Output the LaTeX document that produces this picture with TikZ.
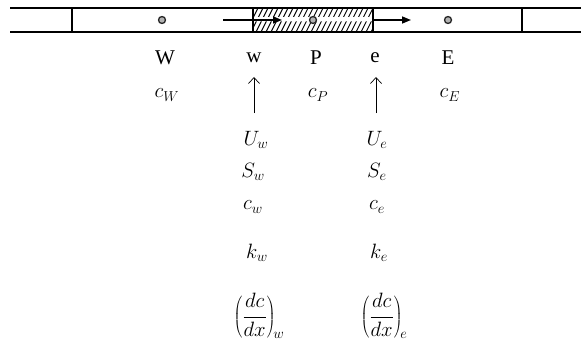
\documentclass[tikz,border=0pt]{standalone}
\usepackage{fontspec}
\setmainfont{Liberation Serif}
\usetikzlibrary{arrows.meta}
\begin{document}
\begin{tikzpicture}[x=1pt,y=-1pt,
  lbl/.style={font=\fontsize{21}{25}\selectfont, inner sep=0pt, anchor=center},
  cellline/.style={line width=1.8pt},
  hatchline/.style={line width=0.9pt},
  gdot/.style={circle, draw=black!85, fill=gray!60, line width=1.3pt, minimum size=7pt, inner sep=0pt},
  flux/.style={line width=1.5pt, -{Triangle[length=9pt,width=7pt]}},
  uparrow/.style={line width=0.7pt, -{Straight Barb[length=6pt,width=11pt]}}
]
\useasboundingbox (0,0) rectangle (581,345);
% hatching of the control volume P
\begin{scope}
  \clip (253,9) rectangle (373,17) (253,21.5) rectangle (373,31);
  \foreach \x in {236,241,...,376} \draw[hatchline] (\x,32) -- ++(12,-24);
\end{scope}
% grid lines
\draw[cellline] (10,8) -- (581,8);
\draw[cellline] (10,32) -- (581,32);
\foreach \x in {72,253,373,522} \draw[cellline] (\x,8) -- (\x,32);
% nodes (grid points)
\node[gdot] (dW) at (162,20) {};
\node[gdot] (dP) at (313,20) {};
\node[gdot] (dE) at (448,20) {};
% face velocity arrows
\coordinate (fw0) at (223,20);
\coordinate (fw1) at (282,20);
\coordinate (fe0) at (373,20);
\coordinate (fe1) at (411,20);
\draw[flux] (fw0) -- (fw1);
\draw[flux] (fe0) -- (fe1);
% labels
\node[lbl] (W) at (165,58) {W};
\node[lbl] (w) at (254,58) {w};
\node[lbl] (P) at (316,58) {P};
\node[lbl] (e) at (375,58) {e};
\node[lbl] (E) at (448,58) {E};
\node[lbl] (cW) at (167,95) {$c_W$};
\node[lbl] (cP) at (318,95) {$c_P$};
\node[lbl] (cE) at (450,95) {$c_E$};
\node[lbl] (Uw) at (256,140) {$U_w$};
\node[lbl] (Ue) at (377,140) {$U_e$};
\node[lbl] (Sw) at (253,172) {$S_w$};
\node[lbl] (Se) at (377,172) {$S_e$};
\node[lbl] (cw) at (253,207) {$c_w$};
\node[lbl] (ce) at (377,207) {$c_e$};
\node[lbl] (kw) at (257,253) {$k_w$};
\node[lbl] (ke) at (379,253) {$k_e$};
\node[lbl] (gw) at (259,316) {$\displaystyle\left(\frac{dc}{dx}\right)_{\!w}$};
\node[lbl] (ge) at (384,316) {$\displaystyle\left(\frac{dc}{dx}\right)_{\!e}$};
% arrows from face quantities to faces
\coordinate (aw0) at (254,113);
\coordinate (aw1) at (254,77);
\coordinate (ae0) at (376,113);
\coordinate (ae1) at (376,77);
\draw[uparrow] (aw0) -- (aw1);
\draw[uparrow] (ae0) -- (ae1);
\end{tikzpicture}
\end{document}
